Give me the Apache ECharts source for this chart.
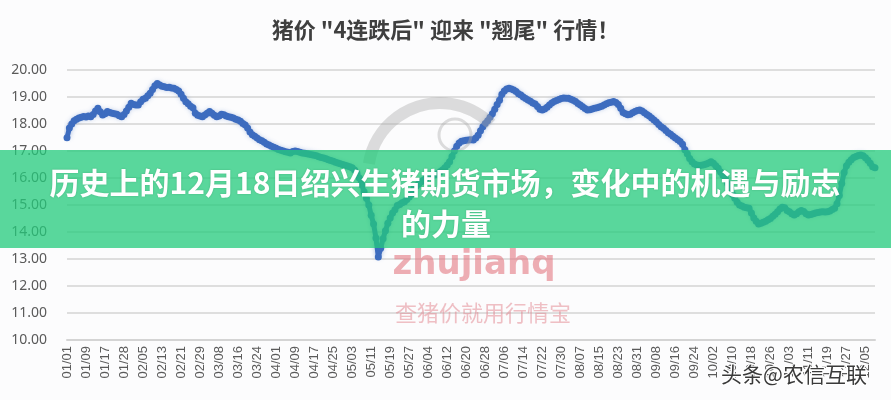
<!DOCTYPE html>
<html>
<head>
<meta charset="utf-8">
<script src="https://cdn.jsdelivr.net/npm/echarts@6/dist/echarts.min.js"></script>
<style>
html,body{margin:0;padding:0;background:#fcfcfd;}
#chart{width:891px;height:400px;}
</style>
</head>
<body>
<div id="chart"></div>
<script>
// ---- data ----
const chartTitle = '猪价 "4连跌后" 迎来 "翘尾" 行情！';
const bannerLine1 = '历史上的12月18日绍兴生猪期货市场，变化中的机遇与励志';
const bannerLine2 = '的力量';
const watermark1 = 'zhujiahq';
const watermark2 = '查猪价就用行情宝';
const watermark3 = '头条@农信互联';

const tickLabels = ['01/01','01/09','01/17','01/28','02/05','02/13','02/21','02/29','03/08','03/16',
  '03/24','04/01','04/09','04/17','04/25','05/03','05/11','05/19','05/27','06/04','06/12','06/20',
  '06/28','07/06','07/14','07/22','07/30','08/07','08/15','08/23','08/31','09/08','09/16','09/24',
  '10/02','10/10','10/18','10/26','11/03','11/11','11/19','11/27','12/05'];

const yTicks = [10,11,12,13,14,15,16,17,18,19,20];

// daily prices
const prices = [
  17.49,17.85,18.00,18.12,18.18,18.22,18.25,18.28,18.26,18.30,
  18.27,18.35,18.48,18.58,18.45,18.33,18.38,18.46,18.43,18.40,
  18.38,18.36,18.31,18.27,18.35,18.48,18.62,18.77,18.72,18.70,
  18.70,18.82,18.92,18.95,19.05,19.14,19.28,19.42,19.50,19.44,
  19.40,19.38,19.35,19.36,19.33,19.32,19.28,19.22,19.10,18.95,
  18.82,18.75,18.66,18.60,18.40,18.32,18.30,18.27,18.33,18.40,
  18.46,18.40,18.32,18.27,18.30,18.36,18.34,18.30,18.27,18.25,
  18.22,18.18,18.15,18.10,18.02,17.96,17.85,17.70,17.60,17.55,
  17.48,17.42,17.38,17.32,17.26,17.22,17.18,17.14,17.10,17.06,
  17.03,17.00,16.97,16.95,16.93,16.98,17.00,16.98,16.95,16.93,
  16.92,16.90,16.88,16.86,16.84,16.82,16.79,16.76,16.74,16.71,
  16.68,16.65,16.62,16.58,16.56,16.53,16.50,16.47,16.44,16.42,
  16.38,16.30,16.18,16.00,15.75,15.49,15.25,15.00,14.62,14.30,
  13.78,13.07,13.40,13.75,14.05,14.32,14.52,14.70,14.82,14.98,
  15.02,15.08,15.12,15.20,15.30,15.40,15.63,15.70,15.78,15.86,
  15.92,15.98,16.05,16.08,16.10,16.12,16.16,16.23,16.30,16.38,
  16.48,16.60,16.80,17.00,17.18,17.30,17.36,17.38,17.40,17.41,
  17.42,17.41,17.48,17.58,17.75,17.90,18.02,18.12,18.25,18.38,
  18.55,18.72,18.88,19.10,19.22,19.30,19.32,19.30,19.26,19.20,
  19.12,19.07,19.00,18.94,18.89,18.84,18.78,18.74,18.65,18.55,
  18.52,18.56,18.62,18.70,18.78,18.83,18.87,18.91,18.94,18.96,
  18.95,18.95,18.92,18.88,18.83,18.76,18.70,18.64,18.57,18.52,
  18.53,18.56,18.58,18.60,18.63,18.66,18.70,18.75,18.79,18.81,
  18.83,18.80,18.72,18.58,18.43,18.38,18.34,18.36,18.42,18.46,
  18.50,18.52,18.48,18.42,18.35,18.30,18.22,18.15,18.07,17.98,
  17.90,17.84,17.76,17.68,17.62,17.55,17.48,17.42,17.35,17.25,
  17.05,16.90,16.72,16.60,16.52,16.48,16.46,16.47,16.49,16.52,
  16.56,16.60,16.55,16.45,16.36,16.22,16.10,15.98,15.80,15.60,
  15.40,15.25,15.10,15.00,14.96,14.92,14.90,14.88,14.70,14.52,
  14.40,14.30,14.32,14.36,14.40,14.45,14.50,14.58,14.66,14.75,
  14.85,14.92,14.90,14.80,14.75,14.68,14.63,14.68,14.75,14.80,
  14.76,14.68,14.63,14.65,14.68,14.70,14.72,14.74,14.75,14.74,
  14.75,14.78,14.83,14.88,15.05,15.35,15.80,16.20,16.45,16.58,
  16.68,16.76,16.80,16.83,16.85,16.82,16.75,16.66,16.55,16.42,
  16.38
];

// daily date categories (2016), three holiday days absent between 01/17 and 01/28
const startYear = 2016;
const skippedDays = ['01/22','01/23','01/24'];
const categories = [];
(function(){
  const d = new Date(startYear, 0, 1);
  while (categories.length < prices.length) {
    const s = String(d.getMonth()+1).padStart(2,'0') + '/' + String(d.getDate()).padStart(2,'0');
    if (skippedDays.indexOf(s) < 0) categories.push(s);
    d.setDate(d.getDate()+1);
  }
})();

const chart = echarts.init(document.getElementById('chart'), null, {renderer:'canvas'});
const lineColor = '#3d6cbf';

chart.setOption({
  backgroundColor: '#fcfcfd',
  animation: false,
  grid: {left: 67, right: 16, top: 70, bottom: 60, containLabel: false},
  xAxis: {
    type: 'category',
    data: categories,
    boundaryGap: false,
    axisLine: {show: true, lineStyle: {color: '#d4d4d4', width: 2}},
    axisTick: {show: false},
    axisLabel: {
      interval: 7,
      rotate: 90,
      margin: 6,
      color: '#5a5a5a',
      fontSize: 13,
      fontFamily: 'Liberation Sans',
      formatter: function(v, i){ return (i % 8 === 0 && tickLabels[i/8]) ? tickLabels[i/8] : v; }
    },
    splitLine: {show: false}
  },
  yAxis: {
    type: 'value',
    min: yTicks[0],
    max: yTicks[yTicks.length-1],
    interval: 1,
    axisLine: {show: false},
    axisTick: {show: false},
    axisLabel: {
      margin: 20,
      color: '#5a5a5a',
      fontSize: 14,
      fontFamily: 'Noto Sans',
      formatter: function(v){ return v.toFixed(2); }
    },
    splitLine: {lineStyle: {color: '#dedede', width: 2}}
  },
  series: [{
    type: 'line',
    data: prices,
    symbol: 'circle',
    symbolSize: 7,
    showSymbol: true,
    showAllSymbol: true,
    itemStyle: {color: lineColor},
    lineStyle: {color: lineColor, width: 5, shadowBlur: 5, shadowColor: 'rgba(61,108,191,0.45)'},
    z: 3
  }],
  graphic: [
    {type: 'text', left: 'center', top: 19, z: 10,
      style: {text: chartTitle, fontSize: 22, fontWeight: 'bold', fill: '#3f3f3f',
        fontFamily: 'Noto Sans CJK SC'}},
    // faint logo swirl
    {type: 'arc', z: 5, shape: {cx: 440, cy: 175, r: 72, startAngle: Math.PI*1.05, endAngle: Math.PI*1.75},
      style: {stroke: 'rgba(170,170,170,0.4)', lineWidth: 12, fill: null}},
    {type: 'circle', z: 5, shape: {cx: 455, cy: 135, r: 16},
      style: {stroke: 'rgba(170,170,170,0.4)', lineWidth: 3, fill: null}},
    // green banner
    {type: 'rect', z: 20, shape: {x: 0, y: 150, width: 891, height: 98},
      style: {fill: 'rgba(35,203,123,0.75)'}},
    {type: 'text', z: 21, x: 445, y: 183,
      style: {text: bannerLine1, fontSize: 30, fontWeight: 'bold', fill: '#ffffff',
        align: 'center', verticalAlign: 'middle', fontFamily: 'Noto Sans CJK SC',
        textShadowColor: 'rgba(0,80,40,0.25)', textShadowBlur: 2}},
    {type: 'text', z: 21, x: 446, y: 224,
      style: {text: bannerLine2, fontSize: 30, fontWeight: 'bold', fill: '#ffffff',
        align: 'center', verticalAlign: 'middle', fontFamily: 'Noto Sans CJK SC',
        textShadowColor: 'rgba(0,80,40,0.25)', textShadowBlur: 2}},
    // watermarks
    {type: 'text', z: 6, x: 474, y: 265,
      style: {text: watermark1, fontSize: 34, fontWeight: 'bold', fill: 'rgba(226,120,130,0.6)',
        align: 'center', verticalAlign: 'middle', fontFamily: 'DejaVu Sans'}},
    {type: 'text', z: 6, x: 483, y: 313,
      style: {text: watermark2, fontSize: 22, fill: 'rgba(226,130,140,0.5)',
        align: 'center', verticalAlign: 'middle', fontFamily: 'Noto Sans CJK SC'}},
    {type: 'text', z: 22, x: 794, y: 374,
      style: {text: watermark3, fontSize: 21, fill: '#3a3a3a',
        stroke: '#ffffff', lineWidth: 2,
        align: 'center', verticalAlign: 'middle', fontFamily: 'Noto Sans CJK SC'}}
  ]
});
</script>
</body>
</html>
